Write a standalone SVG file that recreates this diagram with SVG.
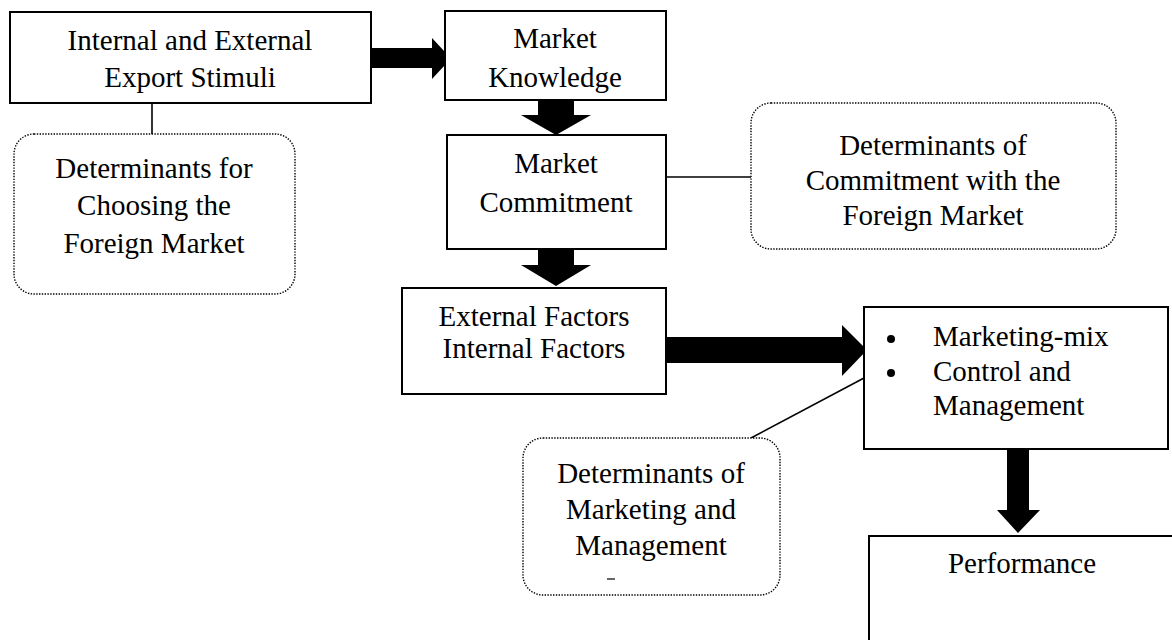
<svg xmlns="http://www.w3.org/2000/svg" width="1172" height="640" viewBox="0 0 1172 640">
<style>
.box{fill:#fff;stroke:#000;stroke-width:2}
.dot{fill:#fff;stroke:#000;stroke-width:1.4;stroke-dasharray:1.4 1.4}
.t{font-family:"Liberation Serif","Times New Roman",serif;font-size:29px;fill:#000}
.c{text-anchor:middle}
.ln{stroke:#000;stroke-width:1.6;fill:none}
.arr{fill:#000;stroke:none}
</style>
<rect width="1172" height="640" fill="#fff"/>
<g id="connectors">
<line class="ln" x1="152" y1="103" x2="152" y2="134"/>
<line class="ln" x1="666" y1="177" x2="751" y2="177"/>
<line class="ln" x1="864" y1="378" x2="751" y2="438"/>
<polygon class="arr" points="371,48 432,48 432,38 451,58.5 432,79 432,68 371,68"/>
<polygon class="arr" points="538,100 574,100 574,115 591,115 556,135 521,115 538,115"/>
<polygon class="arr" points="538,249 574,249 574,265 591,265 556,286 521,265 538,265"/>
<polygon class="arr" points="666,337 842,337 842,325 867,350 842,376 842,363 666,363"/>
<polygon class="arr" points="1007,449 1029,449 1029,510 1040,510 1018,533 997,510 1007,510"/>
</g>
<g id="stimuli">
<rect class="box" x="10" y="12" width="361" height="91"/>
<text class="t c" x="190" y="50">Internal and External</text>
<text class="t c" x="190" y="87">Export Stimuli</text>
</g>
<g id="knowledge">
<rect class="box" x="445" y="11" width="221" height="89"/>
<text class="t c" x="555" y="48">Market</text>
<text class="t c" x="555" y="87">Knowledge</text>
</g>
<g id="commitment">
<rect class="box" x="447" y="135" width="219" height="114"/>
<text class="t c" x="556" y="173">Market</text>
<text class="t c" x="556" y="212">Commitment</text>
</g>
<g id="factors">
<rect class="box" x="402" y="288" width="264" height="106"/>
<text class="t c" x="534" y="326">External Factors</text>
<text class="t c" x="534" y="358">Internal Factors</text>
</g>
<g id="marketing">
<rect class="box" x="864" y="307" width="304" height="142"/>
<circle cx="891" cy="339" r="4"/>
<circle cx="891" cy="373" r="4"/>
<text class="t" x="933" y="346">Marketing-mix</text>
<text class="t" x="933" y="381">Control and</text>
<text class="t" x="933" y="415">Management</text>
</g>
<g id="performance">
<rect class="box" x="869" y="536" width="320" height="120"/>
<text class="t c" x="1022" y="573">Performance</text>
</g>
<g id="det-choosing">
<rect class="dot" x="14" y="134" width="281" height="160" rx="20" ry="20"/>
<text class="t c" x="154" y="178">Determinants for</text>
<text class="t c" x="154" y="215">Choosing the</text>
<text class="t c" x="154" y="253">Foreign Market</text>
</g>
<g id="det-commitment">
<rect class="dot" x="751" y="103" width="365" height="146" rx="20" ry="20"/>
<text class="t c" x="933" y="155">Determinants of</text>
<text class="t c" x="933" y="190">Commitment with the</text>
<text class="t c" x="933" y="225">Foreign Market</text>
</g>
<g id="det-marketing">
<rect class="dot" x="523" y="438" width="257" height="157" rx="20" ry="20"/>
<text class="t c" x="651" y="483">Determinants of</text>
<text class="t c" x="651" y="519">Marketing and</text>
<text class="t c" x="651" y="555">Management</text>
<line x1="607" y1="579" x2="615" y2="579" stroke="#000" stroke-width="1.2"/>
</g>
</svg>
